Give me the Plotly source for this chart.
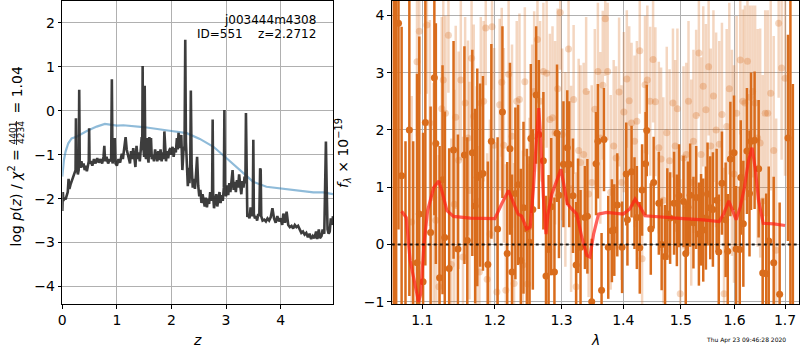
import plotly.graph_objects as go

# ---------------- left panel: p(z) ----------------
z_grid = [0.00, 0.01, 0.02, 0.04, 0.06, 0.08, 0.10, 0.115, 0.13, 0.15, 0.17, 0.19, 0.21, 0.23, 0.243, 0.25, 0.258,
          0.27, 0.285, 0.30, 0.31, 0.32, 0.335, 0.35, 0.37, 0.39, 0.41, 0.43, 0.45, 0.47, 0.485, 0.492, 0.50, 0.52,
          0.55, 0.58, 0.61, 0.64, 0.67, 0.70, 0.73, 0.755, 0.77, 0.785, 0.81, 0.84, 0.87, 0.895, 0.908, 0.92, 0.94,
          0.96, 0.975, 1.00, 1.03, 1.06, 1.09, 1.11, 1.14, 1.16, 1.18, 1.21, 1.24, 1.26, 1.28, 1.30, 1.32, 1.34,
          1.36, 1.38, 1.40, 1.42, 1.44, 1.455, 1.465, 1.472, 1.48, 1.50, 1.51, 1.52, 1.535, 1.55, 1.565, 1.58,
          1.595, 1.61, 1.625, 1.64, 1.66, 1.68, 1.70, 1.72, 1.74, 1.76, 1.78, 1.80, 1.82, 1.84, 1.86, 1.87, 1.885,
          1.90, 1.92, 1.94, 1.96, 1.98, 2.00, 2.02, 2.04, 2.06, 2.08, 2.10, 2.115, 2.13, 2.145, 2.165, 2.18, 2.20,
          2.22, 2.24, 2.253, 2.265, 2.28, 2.30, 2.315, 2.33, 2.345, 2.355, 2.37, 2.39, 2.41, 2.43, 2.45, 2.47,
          2.49, 2.51, 2.53, 2.55, 2.57, 2.59, 2.61, 2.63, 2.65, 2.67, 2.69, 2.71, 2.73, 2.745, 2.755, 2.765, 2.78,
          2.80, 2.82, 2.84, 2.86, 2.88, 2.90, 2.92, 2.94, 2.96, 2.97, 2.98, 3.00, 3.02, 3.04, 3.06, 3.08, 3.10,
          3.12, 3.14, 3.16, 3.18, 3.20, 3.22, 3.24, 3.26, 3.28, 3.30, 3.32, 3.34, 3.355, 3.365, 3.375, 3.39, 3.41,
          3.43, 3.45, 3.47, 3.49, 3.50, 3.51, 3.53, 3.55, 3.57, 3.59, 3.61, 3.625, 3.635, 3.645, 3.67, 3.70, 3.73,
          3.76, 3.79, 3.82, 3.85, 3.88, 3.91, 3.94, 3.97, 4.00, 4.03, 4.05, 4.08, 4.11, 4.14, 4.17, 4.20, 4.23,
          4.26, 4.29, 4.32, 4.35, 4.38, 4.41, 4.44, 4.47, 4.50, 4.53, 4.56, 4.59, 4.62, 4.65, 4.67, 4.70, 4.72,
          4.75, 4.77, 4.80, 4.815, 4.83, 4.845, 4.86, 4.88, 4.90, 4.92, 4.94, 4.96]
log_pz = [-2.28, -1.85, -2.05, -1.98, -2.02, -1.92, -1.85, -1.55, -1.78, -1.68, -1.60, -1.55, -1.45, -1.40, -1.35,
          -0.17, -1.40, -1.30, -1.45, -1.35, 0.48, -1.20, -1.30, -1.15, -1.28, -1.20, -1.35, -1.25, -1.38, -1.22,
          -1.15, -0.40, -1.20, -1.15, -1.25, -1.10, -1.20, -1.08, -1.18, -1.10, -1.20, -1.05, -0.80, -1.15, -1.05,
          -1.20, -1.10, -1.15, 0.72, -1.20, -1.05, -0.62, -1.20, -1.25, -1.10, -1.18, -0.98, -1.10, -0.78, -0.60,
          -0.88, -1.05, -1.20, -0.92, -1.10, -0.85, -1.05, -1.28, -0.80, -1.10, -0.95, -1.15, -0.85, -0.60, -0.90,
          1.02, -0.75, -1.05, 0.57, -1.00, -1.10, -0.62, -1.05, -1.18, -0.60, -1.05, -0.62, -1.10, -1.00, -1.15,
          -0.88, -1.05, -1.15, -0.92, -1.12, -0.88, -1.15, -0.95, -1.10, -0.47, -1.00, -1.15, -0.92, -1.08, -0.90,
          -0.85, -1.00, -0.82, -1.05, -0.85, -0.95, -0.62, -0.88, -0.50, -0.85, -0.60, -0.55, -1.35, -0.92, -0.80,
          1.62, -0.70, -1.20, -1.72, -1.30, -1.65, -1.20, 0.46, -1.25, -1.75, -1.55, -1.78, -1.45, -1.05, -1.70,
          -1.95, -1.80, -2.10, -1.90, -2.05, -2.18, -1.98, -2.20, -2.00, -2.12, -1.85, -2.05, -1.90, -0.20, -1.95,
          -2.22, -2.05, -1.90, -2.18, -2.02, -1.85, -2.10, -1.92, -2.05, -1.75, 0.02, -1.80, -1.95, -1.70, -1.92,
          -1.65, -1.85, -1.55, -1.35, -1.80, -1.62, -1.85, -1.58, -1.75, -1.45, -1.70, -1.90, -1.60, -1.75, -1.50,
          -1.65, -0.05, -1.80, -2.42, -2.35, -2.45, -2.20, -2.40, -2.30, -0.66, -2.35, -2.45, -2.40, -2.50, -2.35,
          -2.40, -1.31, -1.35, -2.40, -2.50, -2.48, -2.52, -2.45, -2.50, -2.42, -2.22, -2.45, -2.55, -2.40, -2.52,
          -2.45, -2.60, -2.34, -2.55, -2.30, -2.60, -2.65, -2.62, -2.68, -2.60, -2.65, -2.62, -2.70, -2.78, -2.75,
          -2.82, -2.78, -2.88, -2.80, -2.92, -2.85, -2.90, -2.75, -2.92, -2.70, -2.90, -2.85, -2.70, -2.80, -1.80,
          -0.70, -1.80, -2.70, -2.80, -2.75, -2.45, -2.60, -2.40]

z_prior = [0.00, 0.03, 0.06, 0.11, 0.17, 0.26, 0.45, 0.63, 0.78, 0.87, 1.00, 1.12, 1.48, 2.00, 2.28, 2.52, 2.77,
           3.01, 3.25, 3.50, 3.74, 4.00, 4.35, 4.60, 4.78, 4.96]
log_prior = [-1.50, -1.12, -0.93, -0.74, -0.63, -0.59, -0.46, -0.36, -0.30, -0.31, -0.34, -0.33, -0.37, -0.46,
             -0.51, -0.64, -0.82, -1.08, -1.35, -1.62, -1.73, -1.77, -1.81, -1.86, -1.86, -1.90]

# ---------------- right panel: spectrum ----------------
wave_g = [1.063, 1.066, 1.069, 1.073, 1.078, 1.083, 1.088, 1.093, 1.096, 1.101, 1.104, 1.111, 1.116, 1.118, 1.123,
          1.127, 1.130, 1.136, 1.142, 1.148, 1.157, 1.161, 1.168, 1.172, 1.175, 1.179, 1.183, 1.190, 1.195, 1.204,
          1.211, 1.218, 1.222, 1.225, 1.230, 1.234, 1.238, 1.242, 1.247, 1.251, 1.253, 1.256, 1.261, 1.265, 1.272,
          1.276, 1.280, 1.284, 1.289, 1.293, 1.296, 1.303, 1.309, 1.312, 1.318, 1.323, 1.326, 1.330, 1.337, 1.341,
          1.348, 1.355, 1.358, 1.364, 1.368, 1.375, 1.381, 1.385, 1.390, 1.398, 1.405, 1.407, 1.414, 1.419, 1.423,
          1.428, 1.432, 1.438, 1.440, 1.447, 1.452, 1.461, 1.466, 1.472, 1.476, 1.481, 1.488, 1.493, 1.497, 1.505,
          1.509, 1.513, 1.517, 1.523, 1.528, 1.533, 1.537, 1.541, 1.546, 1.549, 1.554, 1.559, 1.566, 1.570, 1.576,
          1.583, 1.587, 1.592, 1.599, 1.603, 1.610, 1.612, 1.617, 1.624, 1.629, 1.632, 1.639, 1.647, 1.655, 1.662,
          1.667, 1.677, 1.689, 1.706, 1.711, 1.716]
flux_g = [4.60, -1.30, 3.86, 1.20, -1.40, 2.00, -1.20, -0.32, 0.53, -0.65, 2.13, 0.21, 2.91, 1.76, -0.58, 1.13,
          0.12, -0.42, 1.65, -0.08, 1.56, 0.07, 1.60, 0.67, 1.17, 1.21, 1.24, -0.35, 1.80, 0.27, 2.31, -0.16, 1.67,
          -0.48, 0.89, 1.04, -0.28, 0.64, 0.27, 0.04, 1.85, 0.61, 2.61, 1.92, 1.46, -0.55, -0.09, 0.66, -0.48, 1.94,
          0.86, 1.40, 1.69, 1.40, 0.85, -0.36, 0.50, -0.05, 0.47, 0.49, -1.00, 1.41, 1.80, -0.80, 1.83, -0.05, 0.24,
          0.25, 0.69, -0.05, 1.23, 0.43, 1.27, 0.72, 0.47, -0.06, 0.95, 1.41, 1.99, 0.27, 1.08, 0.72, 0.00, -0.21,
          0.53, 0.46, 0.72, 0.42, 0.85, 0.75, -0.16, 0.65, 0.86, 0.38, 0.82, 0.18, 0.43, 0.25, 0.46, 0.88, 0.64,
          0.61, 0.77, -0.13, 1.07, 0.43, -0.12, 1.49, 1.60, -0.08, -0.09, 1.17, 0.36, 1.63, 0.89, 1.80, 1.82, 1.32,
          -0.50, -0.51, 0.06, -0.32, -0.87, 1.86, 5.50, -1.60]
err_g = [6.0, 5.8, 3.6, 2.6, 3.2, 2.9, 3.0, 3.3, 3.1, 2.6, 2.5, 2.2, 2.4, 2.1, 2.3, 2.0, 2.2, 2.1, 1.9, 2.0, 1.9,
         1.8, 1.8, 1.7, 1.9, 1.6, 1.7, 1.8, 1.7, 1.6, 1.5, 1.6, 1.5, 1.7, 1.5, 1.4, 1.6, 1.5, 1.4, 1.5, 1.3, 1.4,
         1.2, 1.3, 1.2, 1.4, 1.3, 1.2, 1.3, 1.2, 1.1, 1.1, 1.0, 1.1, 1.0, 1.1, 1.0, 1.0, 0.9, 1.0, 1.1, 0.9, 1.0,
         1.0, 0.9, 0.9, 0.9, 0.8, 0.9, 0.8, 0.9, 0.8, 0.8, 0.8, 0.9, 0.8, 0.8, 0.9, 0.8, 0.8, 0.8, 0.9, 0.8, 0.9,
         0.8, 0.8, 0.9, 0.8, 0.9, 0.8, 0.9, 0.8, 0.9, 0.8, 0.9, 0.9, 0.8, 0.9, 0.9, 0.9, 0.9, 1.0, 0.9, 1.0, 0.9,
         1.0, 1.0, 1.0, 1.0, 1.1, 1.1, 1.0, 1.1, 1.1, 1.1, 1.2, 1.2, 1.2, 1.3, 1.4, 1.3, 1.5, 1.6, 1.8, 7.0, 4.4]

wave_b = [1.086, 1.093, 1.096, 1.106, 1.110, 1.115, 1.118, 1.122, 1.126, 1.128, 1.131, 1.135, 1.139, 1.143, 1.145,
          1.149, 1.152, 1.155, 1.158, 1.162, 1.164, 1.167, 1.170, 1.174, 1.178, 1.180, 1.184, 1.187, 1.189, 1.193,
          1.196, 1.199, 1.203, 1.207, 1.210, 1.213, 1.216, 1.220, 1.225, 1.228, 1.232, 1.236, 1.241, 1.244, 1.248,
          1.251, 1.255, 1.258, 1.263, 1.267, 1.272, 1.277, 1.282, 1.286, 1.290, 1.294, 1.298, 1.301, 1.306, 1.311,
          1.315, 1.319, 1.323, 1.327, 1.330, 1.335, 1.339, 1.343, 1.348, 1.353, 1.358, 1.362, 1.366, 1.370, 1.374,
          1.379, 1.384, 1.388, 1.393, 1.397, 1.401, 1.406, 1.410, 1.414, 1.419, 1.423, 1.428, 1.432, 1.437, 1.441,
          1.446, 1.451, 1.455, 1.461, 1.465, 1.469, 1.475, 1.480, 1.486, 1.490, 1.494, 1.499, 1.505, 1.510, 1.514,
          1.519, 1.523, 1.528, 1.533, 1.537, 1.541, 1.546, 1.551, 1.555, 1.560, 1.565, 1.571, 1.576, 1.580, 1.585,
          1.590, 1.595, 1.599, 1.604, 1.611, 1.616, 1.620, 1.625, 1.630, 1.635, 1.640, 1.645, 1.650, 1.655, 1.660,
          1.665, 1.671, 1.677, 1.682, 1.687, 1.693, 1.700]
flux_b = [0.39, 3.19, 3.72, 3.83, 2.12, 0.82, 0.42, -0.74, 2.37, 2.87, 2.29, 3.65, -0.35, 0.70, 2.22, 1.47, 2.87,
          -0.22, 2.47, 1.86, 0.94, 3.25, 2.24, 0.76, -0.48, 2.47, 2.50, 3.78, -0.61, 0.18, 3.80, 1.73, -0.83, 2.44,
          2.83, 1.73, -0.80, 2.97, 1.89, -0.68, 2.50, 2.53, -0.36, 2.84, -0.69, 0.31, 1.89, 2.67, 3.58, 2.50, 3.02,
          2.99, 2.18, 2.21, 1.95, 2.72, 4.05, 1.92, 1.31, 3.41, 0.97, 2.53, -0.74, 1.64, 1.43, 1.57, 2.67, 0.88,
          1.08, 2.36, 3.02, 1.86, 2.78, 3.94, 3.02, 0.91, 1.72, 1.51, 2.66, 1.08, 2.31, 2.89, 2.51, 2.12, 1.80, 2.15,
          3.38, -0.25, 2.79, 2.87, 2.50, 3.23, 2.49, 1.69, 1.49, 0.77, 1.95, 1.46, 2.47, 1.72, 2.37, -0.86, 1.51,
          1.57, 2.50, 1.08, 1.80, 2.25, 3.34, 1.57, 2.76, 2.35, 3.10, 1.72, 2.59, 2.00, 1.75, 2.27, -0.86, 2.06,
          2.72, 1.60, 1.23, 2.29, 3.22, 2.50, 2.47, 3.20, 2.57, 2.67, 2.47, 1.86, 1.77, 0.76, 2.29, 2.29, 2.64,
          1.64, -0.10, 3.86, 3.08, 2.90]
err_b = [2.2, 1.3, 1.1, 1.2, 1.8, 2.0, 2.1, 2.3, 1.6, 1.4, 1.7, 1.0, 2.2, 2.0, 1.6, 1.9, 1.4, 2.1, 1.5, 1.7, 1.9,
         1.2, 1.6, 2.0, 2.2, 1.5, 1.4, 1.0, 2.2, 2.0, 1.1, 1.7, 2.3, 1.5, 1.3, 1.7, 2.2, 1.3, 1.6, 2.1, 1.4, 1.5,
         2.0, 1.3, 2.1, 1.9, 1.6, 1.4, 1.1, 1.4, 1.2, 1.3, 1.5, 1.6, 1.6, 1.4, 1.0, 1.5, 1.7, 1.1, 1.8, 1.3, 2.0,
         1.6, 1.7, 1.6, 1.3, 1.8, 1.7, 1.4, 1.2, 1.5, 1.3, 1.0, 1.2, 1.7, 1.5, 1.6, 1.3, 1.7, 1.4, 1.2, 1.3, 1.4,
         1.5, 1.4, 1.1, 1.9, 1.2, 1.3, 1.3, 1.1, 1.3, 1.5, 1.6, 1.8, 1.5, 1.6, 1.3, 1.5, 1.4, 2.0, 1.6, 1.6, 1.4,
         1.8, 1.6, 1.5, 1.1, 1.7, 1.4, 1.5, 1.2, 1.7, 1.5, 1.7, 1.8, 1.6, 2.2, 1.7, 1.5, 1.8, 1.9, 1.7, 1.3, 1.6,
         1.7, 1.3, 1.6, 1.5, 1.7, 1.9, 2.0, 2.2, 1.8, 1.8, 1.7, 2.0, 2.3, 1.3, 1.6, 1.7]

wave_model = [1.073, 1.079, 1.084, 1.088, 1.091, 1.095, 1.098, 1.102, 1.107, 1.115, 1.122, 1.126, 1.133, 1.142,
              1.165, 1.189, 1.200, 1.210, 1.220, 1.227, 1.234, 1.239, 1.247, 1.252, 1.257, 1.261, 1.265, 1.268,
              1.272, 1.276, 1.279, 1.285, 1.292, 1.299, 1.303, 1.309, 1.316, 1.324, 1.332, 1.340, 1.345, 1.351,
              1.359, 1.372, 1.400, 1.411, 1.420, 1.429, 1.437, 1.469, 1.505, 1.541, 1.571, 1.579, 1.589, 1.595,
              1.603, 1.611, 1.619, 1.627, 1.634, 1.640, 1.647, 1.656, 1.677, 1.700]
flux_model = [0.58, 0.47, -0.28, -0.57, -0.74, -1.00, -0.86, -0.02, 0.59, 0.99, 1.11, 0.94, 0.59, 0.49, 0.46,
              0.45, 0.45, 0.71, 0.94, 0.73, 0.53, 0.50, 0.27, 0.30, 0.99, 1.75, 2.38, 1.80, 0.82, 0.18, 0.53, 0.88,
              1.11, 1.31, 1.08, 0.71, 0.62, 0.53, 0.13, -0.19, -0.22, 0.18, 0.53, 0.56, 0.53, 0.62, 0.79, 0.65,
              0.50, 0.47, 0.45, 0.43, 0.40, 0.53, 0.76, 0.62, 0.43, 0.65, 0.99, 1.46, 1.69, 1.34, 0.76, 0.37, 0.36,
              0.33]

x_ticks_left = [0, 1, 2, 3, 4]
y_ticks_left = [-4, -3, -2, -1, 0, 1, 2]
x_ticks_right = [1.1, 1.2, 1.3, 1.4, 1.5, 1.6, 1.7]
x_ticktext_right = ["1.1", "1.2", "1.3", "1.4", "1.5", "1.6", "1.7"]
y_ticks_right = [-1, 0, 1, 2, 3, 4]

FONT = "DejaVu Sans"
ORANGE = "rgb(217,108,28)"
ORANGE_LIGHT = "rgba(217,108,28,0.28)"

fig = go.Figure()

# left panel
fig.add_trace(go.Scatter(x=z_prior, y=log_prior, mode="lines", xaxis="x", yaxis="y",
                         line=dict(color="rgba(31,119,180,0.5)", width=2.2), hoverinfo="skip"))
fig.add_trace(go.Scatter(x=z_grid, y=log_pz, mode="lines", xaxis="x", yaxis="y",
                         line=dict(color="rgba(40,40,40,0.9)", width=2.6), hoverinfo="skip"))

# right panel
fig.add_trace(go.Scatter(x=wave_b, y=flux_b, mode="markers", xaxis="x2", yaxis="y2",
                         marker=dict(color=ORANGE_LIGHT, size=7, line=dict(width=0)),
                         error_y=dict(type="data", array=err_b, thickness=2.5, width=0, color=ORANGE_LIGHT),
                         hoverinfo="skip"))
fig.add_trace(go.Scatter(x=wave_g, y=flux_g, mode="markers", xaxis="x2", yaxis="y2",
                         marker=dict(color=ORANGE, size=7, line=dict(width=0)),
                         error_y=dict(type="data", array=err_g, thickness=2.5, width=0, color=ORANGE),
                         hoverinfo="skip"))
fig.add_trace(go.Scatter(x=wave_model, y=flux_model, mode="lines", xaxis="x2", yaxis="y2",
                         line=dict(color="rgba(255,30,20,0.7)", width=3.2), hoverinfo="skip"))

fig.add_shape(type="line", xref="x2 domain", yref="y2", x0=0, x1=1, y0=0, y1=0,
              line=dict(color="rgba(0,0,0,0.85)", width=2, dash="dot"), layer="above")

# fraction bar of the y-axis label (4401 / 4234)
fig.add_shape(type="line", xref="paper", yref="paper", x0=16.5 / 800, x1=16.5 / 800,
              y0=1 - 121 / 350, y1=1 - 145 / 350, line=dict(color="black", width=0.8))

ydom = [1 - 304 / 350, 1 - 1 / 350]
common = dict(showgrid=True, gridcolor="#b0b0b0", gridwidth=0.8, showline=True, mirror=True,
              linecolor="black", linewidth=1, ticks="outside", ticklen=3.5, tickwidth=0.8,
              tickcolor="black", zeroline=False, automargin=False,
              tickfont=dict(family=FONT, size=14, color="black"))

fig.update_layout(
    width=800, height=350, margin=dict(l=0, r=0, t=0, b=0, autoexpand=False),
    paper_bgcolor="white", plot_bgcolor="white", showlegend=False,
    font=dict(family=FONT, color="black"),
    xaxis=dict(domain=[62.3 / 800, 333 / 800], range=[0, 4.96], tickvals=x_ticks_left, anchor="y", **common),
    yaxis=dict(domain=ydom, range=[-4.4, 2.5], tickvals=y_ticks_left, anchor="x", **common),
    xaxis2=dict(domain=[391.7 / 800, 799 / 800], type="log", range=[0.02543, 0.23772],
                tickvals=x_ticks_right, ticktext=x_ticktext_right, anchor="y2", **common),
    yaxis2=dict(domain=ydom, range=[-1.04, 4.25], tickvals=y_ticks_right, anchor="x2", **common),
)

annos = [
    dict(text="j003444m4308", x=318 / 800, y=1 - 20 / 350, xanchor="right", yanchor="middle", font=dict(size=12)),
    dict(text="ID=551\u00a0\u00a0\u00a0\u00a0z=2.2712", x=318 / 800, y=1 - 34 / 350, xanchor="right",
         yanchor="middle", font=dict(size=12)),
    dict(text="<i>z</i>", x=197.5 / 800, y=1 - 340 / 350, xanchor="center", yanchor="middle", font=dict(size=14)),
    dict(text="<i>λ</i>", x=595 / 800, y=1 - 340 / 350, xanchor="center", yanchor="middle", font=dict(size=14)),
    dict(text="log <i>p</i>(<i>z</i>) / <i>χ</i><sup>2</sup> =", x=15.5 / 800, y=1 - 198 / 350,
         xanchor="center", yanchor="middle", textangle=-90, font=dict(size=14)),
    dict(text="4401", x=12.5 / 800, y=1 - 133 / 350, xanchor="center", yanchor="middle", textangle=-90,
         font=dict(size=9)),
    dict(text="4234", x=21 / 800, y=1 - 133 / 350, xanchor="center", yanchor="middle", textangle=-90,
         font=dict(size=9)),
    dict(text="= 1.04", x=16.5 / 800, y=1 - 90 / 350, xanchor="center", yanchor="middle", textangle=-90,
         font=dict(size=14)),
    dict(text="<i>f</i><sub><i>λ</i></sub> × 10<sup>−19</sup>", x=343 / 800, y=1 - 153 / 350,
         xanchor="center", yanchor="middle", textangle=-90, font=dict(size=14)),
    dict(text="Thu Apr 23 09:46:28 2020", x=788 / 800, y=1 - 340 / 350, xanchor="right", yanchor="middle",
         font=dict(size=6)),
]
for a in annos:
    a.update(xref="paper", yref="paper", showarrow=False)
    a["font"] = dict(family=FONT, color="black", **a["font"])
    fig.add_annotation(**a)

fig.write_html("out.html")
